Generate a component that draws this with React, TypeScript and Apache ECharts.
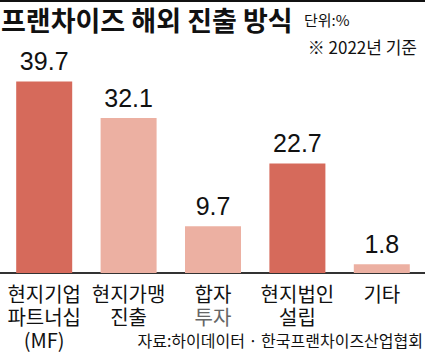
import React, { useEffect, useRef } from "react";
import * as echarts from "echarts";

const categories = ["현지기업\n파트너십\n(MF)", "현지가맹\n진출", "합자\n{g|투자}", "현지법인\n설립", "기타"];
const values = [39.7, 32.1, 9.7, 22.7, 1.8];
const highlight = [true, false, false, true, false];

const DARK = "#D66A5B";
const LIGHT = "#ECB0A2";
const KR = "'Noto Sans CJK KR', 'Noto Sans', sans-serif";
const NUM = "'Liberation Sans Narrow', 'Liberation Sans', Arial, sans-serif";

export default function App() {
  const ref = useRef<HTMLDivElement>(null);
  useEffect(() => {
    if (!ref.current) return;
    const chart = echarts.init(ref.current, undefined, { renderer: "svg" });
    chart.setOption({
      animation: false,
      backgroundColor: "#ffffff",
      grid: { left: 2, right: 1, top: 80, bottom: 82, containLabel: false },
      xAxis: {
        type: "category",
        data: categories,
        axisLine: { show: true, lineStyle: { color: "#333", width: 2 } },
        axisTick: { show: false },
        axisLabel: {
          interval: 0,
          color: "#111",
          fontFamily: KR,
          fontSize: 20,
          lineHeight: 23,
          margin: 9,
          rich: { g: { color: "#666", fontFamily: KR, fontSize: 20, lineHeight: 23 } },
        },
      },
      yAxis: { type: "value", min: 0, max: 40, show: false, splitLine: { show: false } },
      series: [
        {
          type: "bar",
          barWidth: 56,
          data: values.map((v, i) => ({ value: v, itemStyle: { color: highlight[i] ? DARK : LIGHT } })),
          label: {
            show: true,
            position: "top",
            distance: 8,
            color: "#111",
            fontFamily: NUM,
            fontSize: 25,
            formatter: (p: any) => p.value.toFixed(1),
          },
        },
      ],
      graphic: [
        { type: "rect", left: 0, top: 0, shape: { width: 425, height: 2 }, style: { fill: "#111" } },
        { type: "rect", left: 0, top: 272, shape: { width: 425, height: 2 }, style: { fill: "#333" } },
        { type: "text", left: 1, top: 6, style: { text: "프랜차이즈 해외 진출 방식", font: `bold 27px ${KR}`, fill: "#111" } },
        { type: "text", left: 304, top: 12, style: { text: "단위:%", font: `15px ${KR}`, fill: "#111" } },
        { type: "text", right: 8, top: 38, style: { text: "※ 2022년 기준", font: `17px ${KR}`, fill: "#111" } },
        { type: "text", right: 2, top: 332, style: { text: "자료:하이데이터 · 한국프랜차이즈산업협회", font: `16px ${KR}`, fill: "#111" } },
      ],
    });
    return () => chart.dispose();
  }, []);
  return <div ref={ref} style={{ width: 425, height: 355, position: "absolute", left: 0, top: 0 }} />;
}
